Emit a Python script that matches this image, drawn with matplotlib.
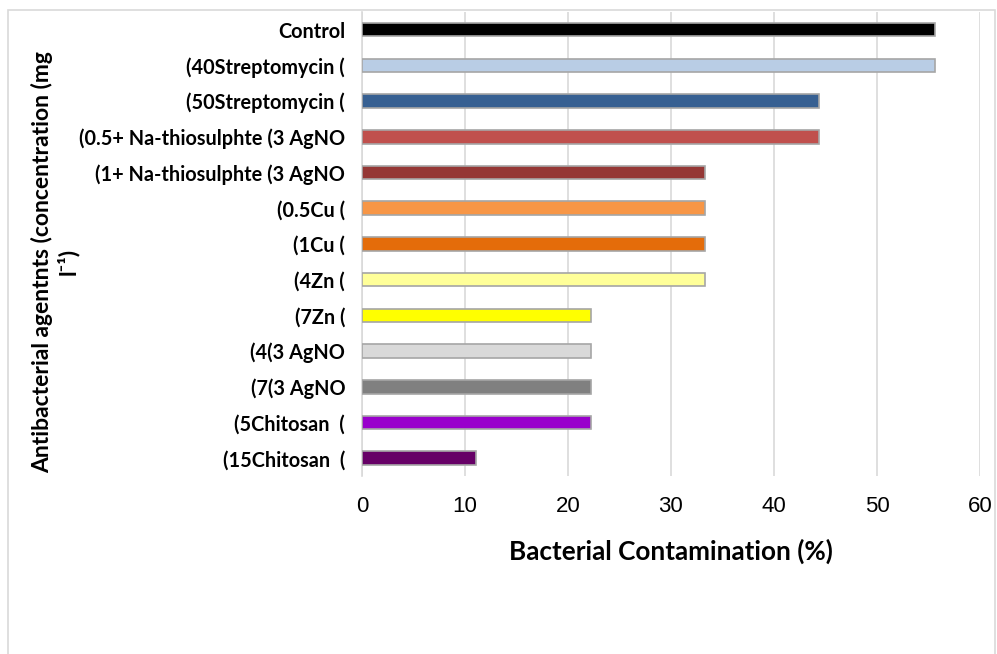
import matplotlib as mpl

mpl.use('Agg')
import matplotlib.pyplot as plt
import numpy as np

# data, top to bottom as shown
agents = ['Control', '(40Streptomycin (', '(50Streptomycin (',
          '(0.5+ Na-thiosulphte (3 AgNO', '(1+ Na-thiosulphte (3 AgNO',
          '(0.5Cu (', '(1Cu (', '(4Zn (', '(7Zn (', '(4(3 AgNO', '(7(3 AgNO',
          '(5Chitosan  (', '(15Chitosan  (']
contamination = [55.6, 55.6, 44.4, 44.4, 33.3, 33.3, 33.3, 33.3,
                 22.2, 22.2, 22.2, 22.2, 11.1]
bar_colors = ['#000000', '#B9CDE5', '#376092', '#C0504D', '#953735',
              '#F79646', '#E46C0A', '#FFFF99', '#FFFF00', '#D9D9D9',
              '#808080', '#9900CC', '#660066']
xticks = [0, 10, 20, 30, 40, 50, 60]

fig = plt.figure(figsize=(9.97, 6.54), dpi=100)

# outer chart-area frame
frame = plt.Rectangle((0.008, -0.01), 0.99, 0.995, transform=fig.transFigure,
                      fill=False, edgecolor='#D9D9D9', linewidth=1.2)
fig.patches.append(frame)

ax = fig.add_axes([0.363, 0.272, 0.620, 0.71])

y = np.arange(len(agents))[::-1]
ax.barh(y, contamination, height=0.38, color=bar_colors,
        edgecolor='#A6A6A6', linewidth=1.2, zorder=3)

ax.set_xlim(0, 60)
ax.set_ylim(-0.5, len(agents) - 0.5)
ax.set_xticks(xticks, [str(t) for t in xticks],
              fontfamily='Liberation Sans', fontsize=16)
ax.grid(axis='x', color='#D9D9D9', linewidth=1.2, zorder=0)
ax.tick_params(axis='x', length=0, pad=14)

ax.set_yticks(y)
ax.set_yticklabels(agents, fontfamily='Lato', fontweight='bold', fontsize=14.3)
ax.tick_params(axis='y', length=0, pad=12)

for side in ['top', 'right', 'bottom']:
    ax.spines[side].set_visible(False)
ax.spines['left'].set_color('#D9D9D9')
ax.spines['left'].set_linewidth(1.2)

ax.set_xlabel('Bacterial Contamination (%)', fontfamily='Lato',
              fontweight='bold', fontsize=18.8, labelpad=16)

fig.text(0.055, 0.6, 'Antibacterial agentnts (concentration (mg\nl\u207b\u00b9)',
         rotation=90, ha='center', va='center', multialignment='center',
         fontfamily=['Lato', 'DejaVu Sans'], fontweight='bold', fontsize=16.5)

plt.savefig('out.png', dpi=100)
